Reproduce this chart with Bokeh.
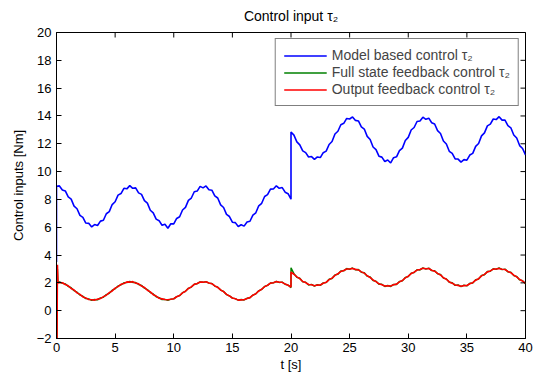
import numpy as np
from bokeh.plotting import figure
from bokeh.models import FixedTicker, Range1d
from bokeh.embed import file_html
from bokeh.resources import INLINE

title_text = "Control input τ₂"
x_label = "t [s]"
y_label = "Control inputs [Nm]"
names = ["Model based control τ₂", "Full state feedback control τ₂", "Output feedback control τ₂"]
x_ticks = [0, 5, 10, 15, 20, 25, 30, 35, 40]
y_ticks = [-2, 0, 2, 4, 6, 8, 10, 12, 14, 16, 18, 20]
x_lim = [0, 40]
y_lim = [-2, 20]

# start transients at t = 0
blue_start_t = [0.0, 0.0]
blue_start = [3.5, 8.95]
green_start_t = [0.0, 0.04, 0.08, 0.12]
green_start = [0.5, -2.4, 3.0, 2.02]
red_start_t = [0.0, 0.04, 0.08, 0.12]
red_start = [0.5, -2.6, 3.3, 2.0]

# samples for t = 0.25 ... 20 (step 0.25)
blue_a = [8.97, 8.68, 8.61, 8.18, 8.02, 7.52, 7.33, 6.85, 6.71, 6.30,
          6.28, 6.02, 6.19, 6.12, 6.44, 6.50, 6.97, 7.12, 7.63, 7.83,
          8.31, 8.42, 8.80, 8.76, 8.99, 8.80, 8.83, 8.47, 8.36, 7.91,
          7.73, 7.22, 7.03, 6.58, 6.47, 6.14, 6.21, 5.93, 6.25, 6.24,
          6.63, 6.75, 7.24, 7.43, 7.93, 8.10, 8.55, 8.60, 8.94, 8.83,
          8.97, 8.69, 8.66, 8.25, 8.10, 7.61, 7.42, 6.92, 6.77, 6.36,
          6.33, 6.05, 6.18, 6.08, 6.38, 6.43, 6.87, 7.04, 7.54, 7.72,
          8.21, 8.34, 8.74, 8.75, 8.98, 8.80, 8.85, 8.52, 8.41, 8.02]
green_a = [2.07, 1.97, 1.93, 1.74, 1.65, 1.44, 1.33, 1.12, 1.04, 0.87,
           0.85, 0.75, 0.80, 0.78, 0.92, 0.96, 1.16, 1.25, 1.47, 1.57,
           1.78, 1.85, 2.01, 2.02, 2.10, 2.03, 2.03, 1.88, 1.82, 1.62,
           1.52, 1.30, 1.20, 1.00, 0.94, 0.80, 0.81, 0.74, 0.83, 0.85,
           1.01, 1.08, 1.29, 1.39, 1.61, 1.70, 1.90, 1.94, 2.07, 2.04,
           2.09, 1.98, 1.95, 1.77, 1.69, 1.48, 1.38, 1.16, 1.07, 0.90,
           0.87, 0.75, 0.80, 0.77, 0.89, 0.93, 1.12, 1.21, 1.43, 1.53,
           1.74, 1.82, 1.99, 2.00, 2.10, 2.03, 2.05, 1.90, 1.84, 1.66]
red_a = [2.03, 2.01, 1.88, 1.79, 1.60, 1.49, 1.28, 1.17, 0.99, 0.92,
         0.80, 0.79, 0.76, 0.83, 0.87, 1.01, 1.11, 1.30, 1.42, 1.62,
         1.73, 1.90, 1.96, 2.07, 2.05, 2.09, 1.98, 1.93, 1.77, 1.67,
         1.47, 1.35, 1.15, 1.05, 0.89, 0.85, 0.80, 0.79, 0.82, 0.86,
         1.00, 1.09, 1.28, 1.40, 1.60, 1.71, 1.89, 1.95, 2.06, 2.05,
         2.08, 1.99, 1.94, 1.78, 1.68, 1.49, 1.37, 1.17, 1.06, 0.91,
         0.86, 0.76, 0.78, 0.79, 0.88, 0.94, 1.11, 1.22, 1.42, 1.54,
         1.73, 1.83, 1.98, 2.01, 2.09, 2.04, 2.04, 1.91, 1.83, 1.70]

# samples for t = 20 ... 40 (step 0.25), after the change at t = 20
blue_b = [12.85, 12.62, 12.14, 11.92, 11.49, 11.36, 11.05, 11.08, 10.88, 11.05,
          11.01, 11.36, 11.47, 11.95, 12.16, 12.70, 12.90, 13.37, 13.47, 13.82,
          13.78, 13.93, 13.68, 13.64, 13.22, 13.06, 12.53, 12.31, 11.77, 11.58,
          11.11, 11.04, 10.73, 10.83, 10.62, 11.00, 11.06, 11.51, 11.69, 12.23,
          12.46, 12.99, 13.17, 13.60, 13.64, 13.91, 13.76, 13.84, 13.51, 13.42,
          12.95, 12.74, 12.20, 11.98, 11.46, 11.31, 10.91, 10.90, 10.68, 10.86,
          10.82, 11.19, 11.31, 11.81, 12.02, 12.57, 12.78, 13.29, 13.41, 13.78,
          13.74, 13.95, 13.70, 13.70, 13.30, 13.15, 12.63, 12.41, 11.87, 11.66,
          11.20]
green_b = [3.08, 2.66, 2.40, 2.33, 2.07, 2.05, 1.85, 1.89, 1.76, 1.87,
           1.82, 2.00, 2.02, 2.26, 2.31, 2.57, 2.62, 2.85, 2.86, 3.03,
           2.97, 3.07, 2.94, 2.96, 2.76, 2.73, 2.48, 2.42, 2.17, 2.12,
           1.90, 1.90, 1.74, 1.81, 1.74, 1.89, 1.88, 2.10, 2.14, 2.39,
           2.45, 2.70, 2.74, 2.95, 2.93, 3.08, 2.99, 3.06, 2.88, 2.87,
           2.65, 2.60, 2.34, 2.29, 2.04, 2.01, 1.82, 1.85, 1.73, 1.83,
           1.78, 1.97, 1.98, 2.22, 2.27, 2.53, 2.58, 2.82, 2.83, 3.02,
           2.97, 3.07, 2.95, 2.99, 2.79, 2.76, 2.52, 2.46, 2.21, 2.16,
           1.93]
red_b = [2.78, 2.62, 2.43, 2.30, 2.10, 2.02, 1.88, 1.86, 1.79, 1.84,
         1.85, 1.97, 2.04, 2.23, 2.34, 2.54, 2.65, 2.82, 2.89, 3.00,
         3.00, 3.04, 2.97, 2.93, 2.79, 2.70, 2.51, 2.39, 2.20, 2.09,
         1.93, 1.87, 1.77, 1.78, 1.77, 1.86, 1.91, 2.07, 2.17, 2.36,
         2.48, 2.67, 2.77, 2.92, 2.96, 3.05, 3.02, 3.03, 2.91, 2.84,
         2.68, 2.57, 2.37, 2.26, 2.07, 1.98, 1.85, 1.82, 1.76, 1.80,
         1.81, 1.94, 2.01, 2.19, 2.30, 2.50, 2.61, 2.79, 2.86, 2.99,
         3.00, 3.04, 2.98, 2.96, 2.82, 2.73, 2.55, 2.43, 2.24, 2.13,
         1.96]

t_a = 0.25 * np.arange(1, len(blue_a) + 1)
t_b = 20.0 + 0.25 * np.arange(len(blue_b))

def series(st, sv, a, b):
    t = np.concatenate([np.array(st), t_a, t_b])
    v = np.concatenate([np.array(sv), np.array(a), np.array(b)])
    return t, v

FONT = "Liberation Sans"

p = figure(width=535, height=376, output_backend="svg", toolbar_location=None,
           x_range=Range1d(*x_lim), y_range=Range1d(*y_lim),
           min_border_left=56, min_border_right=10, min_border_top=32, min_border_bottom=38,
           background_fill_color="white", border_fill_color="white")
p.grid.visible = False
p.outline_line_color = "black"
p.outline_line_width = 1

p.title.text = title_text
p.title.align = "center"
p.title.vertical_align = "top"
p.title.text_font = FONT
p.title.text_font_size = "14px"
p.title.text_font_style = "normal"
p.title.text_color = "black"
p.title.standoff = 13

colors = ["#0000ff", "#008000", "#ff0000"]
widths = [1.6, 1.4, 1.6]
data = [series(blue_start_t, blue_start, blue_a, blue_b),
        series(green_start_t, green_start, green_a, green_b),
        series(red_start_t, red_start, red_a, red_b)]
for (t, v), c, w, n in zip(data, colors, widths, names):
    p.line(t, v, line_color=c, line_width=w, legend_label=n)

# inward tick marks on the top and right edges of the box (clipped to the frame)
p.scatter(x_ticks, [y_lim[1]] * len(x_ticks), marker="dash", angle=np.pi / 2, size=10,
          line_color="black", line_width=1)
p.scatter([x_lim[1]] * len(y_ticks), y_ticks, marker="dash", size=10,
          line_color="black", line_width=1)

def style_axis(ax):
    ax.major_tick_in = 5
    ax.major_tick_out = 0
    ax.minor_tick_line_color = None
    ax.axis_line_color = "black"
    ax.major_tick_line_color = "black"
    ax.major_label_text_color = "black"
    ax.major_label_text_font = FONT
    ax.major_label_text_font_size = "13px"
    ax.axis_label_text_font = FONT
    ax.axis_label_text_font_size = "13px"
    ax.axis_label_text_font_style = "normal"
    ax.axis_label_text_color = "black"

xa = p.xaxis[0]
xa.ticker = FixedTicker(ticks=x_ticks)
xa.axis_label = x_label
xa.major_label_standoff = 4
xa.axis_label_standoff = 2
style_axis(xa)

ya = p.yaxis[0]
ya.ticker = FixedTicker(ticks=y_ticks)
ya.axis_label = y_label
ya.major_label_standoff = 5
ya.axis_label_standoff = 8
ya.major_label_overrides = {-2: "−2"}
style_axis(ya)

lg = p.legend[0]
lg.location = "top_right"
lg.border_line_color = "black"
lg.border_line_width = 1
lg.background_fill_color = "white"
lg.background_fill_alpha = 1
lg.label_text_font = FONT
lg.label_text_font_size = "14px"
lg.glyph_width = 43
lg.glyph_height = 15
lg.label_height = 15
lg.label_standoff = 5
lg.padding = 8
lg.spacing = 1
lg.margin = 6

open("out.html", "w").write(file_html(p, INLINE))
